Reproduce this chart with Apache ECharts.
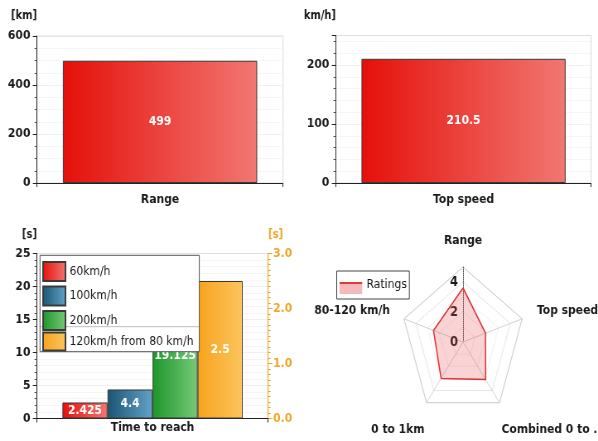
<!DOCTYPE html>
<html>
<head>
<meta charset="utf-8">
<script src="https://cdn.jsdelivr.net/npm/echarts@6/dist/echarts.min.js"></script>
<style>
  html, body { margin: 0; padding: 0; background: #fff; overflow: hidden; width: 598px; height: 441px; }
  /* the dashboard is laid out on a wider canvas and narrowed horizontally */
  #chart { width: 722px; height: 441px; transform: scale(0.8283, 1); transform-origin: 0 0; }
</style>
</head>
<body>
<div id="chart"></div>
<script>
// ---- data ----
const rangeCategory = ['Range'];
const rangeValues = [499];
const rangeTicks = { min: 0, max: 600, interval: 200 };

const speedCategory = ['Top speed'];
const speedValues = [210.5];
const speedTicks = { min: 0, max: 250, interval: 100 };

const timeCategory = ['Time to reach'];
const timeSeriesNames = ['60km/h', '100km/h', '200km/h', '120km/h from 80 km/h'];
const time60 = [2.425];
const time100 = [4.4];
const time200 = [19.125];
const time80to120 = [2.5];
const timeTicksLeft = { min: 0, max: 25, interval: 5 };
const timeTicksRight = { min: 0, max: 3, interval: 1 };

const ratingAxes = ['Range', 'Top speed', 'Combined 0 to ...', '0 to 1km', '80-120 km/h'];
const ratingValues = [3.6, 1.9, 3.1, 3.0, 2.5];
const ratingMax = 5;

// ---- styling helpers ----
const FONT = 'DejaVu Sans';
const INK = '#1a1a1a';
const ORANGE = '#f0a623';

function hGrad(a, b) {
  return { type: 'linear', x: 0, y: 0, x2: 1, y2: 0,
           colorStops: [{ offset: 0, color: a }, { offset: 1, color: b }] };
}
const redFill = hGrad('#e5100a', '#f27772');
const blueFill = hGrad('#1b5574', '#62a3c7');
const greenFill = hGrad('#1c962a', '#78c978');
const orangeFill = hGrad('#f7a31c', '#fcc55e');

const boldLabel = { fontFamily: FONT, fontWeight: 'bold', fontSize: 13, color: INK };

function valueAxis(gridIndex, ticks, name, minorSplit, extra) {
  return Object.assign({
    type: 'value', gridIndex: gridIndex,
    min: ticks.min, max: ticks.max, interval: ticks.interval,
    name: name, nameLocation: 'end', nameGap: 14,
    nameTextStyle: Object.assign({ align: 'right' }, boldLabel, { fontSize: 12 }),
    axisLine: { show: true, lineStyle: { color: '#222' } },
    axisTick: { show: true, length: 5, lineStyle: { color: '#222' } },
    minorTick: { show: true, splitNumber: minorSplit, length: 3, lineStyle: { color: '#555' } },
    axisLabel: Object.assign({ margin: 8 }, boldLabel),
    splitLine: { show: true, lineStyle: { color: '#e2e2e2', type: 'dotted' } },
    minorSplitLine: { show: true, lineStyle: { color: '#ececec', type: 'dotted' } }
  }, extra || {});
}

function catAxis(gridIndex, data, margin) {
  return {
    type: 'category', gridIndex: gridIndex, data: data,
    axisLine: { show: true, lineStyle: { color: '#222' } },
    axisTick: { show: true, length: 4, lineStyle: { color: '#222' } },
    axisLabel: Object.assign({ margin: margin }, boldLabel),
    splitLine: { show: false }
  };
}

const barLabel = { show: true, position: 'inside', color: '#fff',
                   fontFamily: FONT, fontWeight: 'bold', fontSize: 13 };
const barBorder = { borderColor: '#3a3a3a', borderWidth: 1 };

// radar indicators run counter-clockwise from the top
const radarOrder = [0, 4, 3, 2, 1];
// name placement style per spoke (top, upper-left, lower-left, lower-right, upper-right)
const radarNameStyle = ['t', 'l', 'b', 'b', 'r'];
const radarIndicators = radarOrder.map(function (i) {
  const ind = { name: ratingAxes[i], min: 0, max: ratingMax };
  if (i === 0) {
    ind.axisLabel = { show: true };
    ind.axisLine = { lineStyle: { color: '#555', type: 'dotted' } };
  }
  return ind;
});
const radarData = radarOrder.map(function (i) { return ratingValues[i]; });

const nameFont = { fontFamily: FONT, fontWeight: 'bold', fontSize: 13, color: INK };
const radarNameRich = {
  t: Object.assign({ padding: [0, 0, 16, 0] }, nameFont),
  l: Object.assign({ padding: [0, 13, 14, 0] }, nameFont),
  r: Object.assign({ padding: [0, 0, 14, 14] }, nameFont),
  b: Object.assign({ padding: [48, 0, 0, 0] }, nameFont)
};

const ratingsIcon = 'image://data:image/svg+xml;charset=utf-8,' + encodeURIComponent(
  "<svg xmlns='http://www.w3.org/2000/svg' width='28' height='20'>" +
  "<rect x='0' y='8' width='28' height='11' fill='#f6b9b9'/>" +
  "<rect x='0' y='7' width='28' height='2' fill='#e0393b'/></svg>");

const chart = echarts.init(document.getElementById('chart'), null, { renderer: 'canvas' });

const legendText = { fontFamily: FONT, fontSize: 13, color: INK };

chart.setOption({
  animation: false,
  backgroundColor: '#fff',
  grid: [
    { left: 44.7, top: 36, width: 297, height: 147, show: true, borderColor: '#dcdcdc', borderWidth: 1 },
    { left: 405.6, top: 35.5, width: 308, height: 147.5, show: true, borderColor: '#dcdcdc', borderWidth: 1 },
    { left: 44.7, top: 253.5, width: 279, height: 165, show: true, borderColor: '#dcdcdc', borderWidth: 1 }
  ],
  xAxis: [
    catAxis(0, rangeCategory, 10),
    catAxis(1, speedCategory, 10),
    catAxis(2, timeCategory, 3)
  ],
  yAxis: [
    valueAxis(0, rangeTicks, '[km]', 4),
    valueAxis(1, speedTicks, 'km/h]', 5, {
      axisLabel: Object.assign({ margin: 8, showMaxLabel: false }, boldLabel)
    }),
    valueAxis(2, timeTicksLeft, '[s]', 5, { nameGap: 13 }),
    valueAxis(2, timeTicksRight, '[s]', 10, {
      position: 'right', nameGap: 13,
      nameTextStyle: Object.assign({}, boldLabel, { fontSize: 12, align: 'left', color: ORANGE }),
      axisLine: { show: true, lineStyle: { color: ORANGE } },
      axisTick: { show: true, length: 5, lineStyle: { color: ORANGE } },
      minorTick: { show: true, splitNumber: 10, length: 3, lineStyle: { color: ORANGE } },
      axisLabel: Object.assign({ margin: 6 }, boldLabel, {
        color: ORANGE, formatter: function (v) { return v.toFixed(1); } }),
      splitLine: { show: false },
      minorSplitLine: { show: false }
    })
  ],
  radar: [{
    center: [559, 342],
    radius: 75,
    startAngle: 90,
    splitNumber: 5,
    shape: 'polygon',
    nameGap: 4,
    axisName: Object.assign({
      formatter: function (name) {
        const k = radarNameStyle[radarIndicators.findIndex(function (d) { return d.name === name; })];
        return '{' + k + '|' + name + '}';
      },
      rich: radarNameRich
    }, nameFont),
    indicator: radarIndicators,
    splitLine: { lineStyle: { color: ['#e4e4e4', '#e4e4e4', '#e4e4e4', '#e4e4e4', '#cfcfcf'], type: 'dotted' } },
    splitArea: { show: false },
    axisLine: { lineStyle: { color: '#d2d2d2' } },
    axisTick: { show: false },
    axisLabel: {
      show: false, color: INK, fontFamily: FONT, fontWeight: 'bold', fontSize: 14, margin: 6,
      formatter: function (v) { return v % 2 === 0 ? String(v) : ''; }
    }
  }, {
    // solid outer ring of the ratings web
    center: [559, 342],
    radius: 75,
    startAngle: 90,
    splitNumber: 1,
    shape: 'polygon',
    axisName: { show: false },
    indicator: radarIndicators.map(function (d) { return { name: d.name, min: 0, max: ratingMax }; }),
    splitLine: { lineStyle: { color: '#cccccc', type: 'solid' } },
    splitArea: { show: false },
    axisLine: { show: false },
    axisTick: { show: false },
    axisLabel: { show: false },
    silent: true
  }],
  legend: [
    {
      data: timeSeriesNames.slice(0, 3), orient: 'vertical', left: 51, top: 261,
      padding: 0, itemWidth: 27, itemHeight: 19, itemGap: 3.5, icon: 'rect',
      textStyle: legendText, selectedMode: false, z: 30
    },
    {
      data: timeSeriesNames.slice(3), orient: 'vertical', left: 51, top: 331.5,
      padding: 0, itemWidth: 27, itemHeight: 18, icon: 'rect',
      textStyle: legendText, selectedMode: false, z: 30
    },
    {
      data: ['Ratings'], orient: 'vertical', left: 406.5, top: 271,
      padding: [4, 3, 4, 3], borderColor: '#444', borderWidth: 1,
      itemWidth: 28, itemHeight: 20, icon: ratingsIcon,
      textStyle: legendText, selectedMode: false
    }
  ],
  graphic: [
    { type: 'rect', z: 25, shape: { x: 48.3, y: 255.3, width: 192.3, height: 96.4 },
      style: { fill: '#fff', stroke: '#555', lineWidth: 1 } },
    { type: 'line', z: 26, shape: { x1: 49, y1: 326.7, x2: 240, y2: 326.7 },
      style: { stroke: '#bdbdbd', lineWidth: 1 } }
  ],
  series: [
    { type: 'bar', name: 'Range', xAxisIndex: 0, yAxisIndex: 0, data: rangeValues,
      barWidth: '79%', itemStyle: Object.assign({ color: redFill }, barBorder), label: barLabel },
    { type: 'bar', name: 'Top speed', xAxisIndex: 1, yAxisIndex: 1, data: speedValues,
      barWidth: '80%', itemStyle: Object.assign({ color: redFill }, barBorder), label: barLabel },
    { type: 'bar', name: timeSeriesNames[0], xAxisIndex: 2, yAxisIndex: 2, data: time60,
      barWidth: '19.5%', barGap: '0%', itemStyle: Object.assign({ color: redFill }, barBorder), label: barLabel },
    { type: 'bar', name: timeSeriesNames[1], xAxisIndex: 2, yAxisIndex: 2, data: time100,
      barWidth: '19.5%', barGap: '0%', itemStyle: Object.assign({ color: blueFill }, barBorder), label: barLabel },
    { type: 'bar', name: timeSeriesNames[2], xAxisIndex: 2, yAxisIndex: 2, data: time200,
      barWidth: '19.5%', barGap: '0%', itemStyle: Object.assign({ color: greenFill }, barBorder), label: barLabel },
    { type: 'bar', name: timeSeriesNames[3], xAxisIndex: 2, yAxisIndex: 3, data: time80to120,
      barWidth: '19.5%', barGap: '0%', itemStyle: Object.assign({ color: orangeFill }, barBorder), label: barLabel },
    { type: 'radar', radarIndex: 0, symbol: 'none',
      lineStyle: { color: '#dc2f33', width: 1.5 },
      itemStyle: { color: '#dc2f33' },
      areaStyle: { color: 'rgba(236,80,80,0.35)' },
      data: [{ name: 'Ratings', value: radarData }] }
  ]
});
</script>
</body>
</html>
